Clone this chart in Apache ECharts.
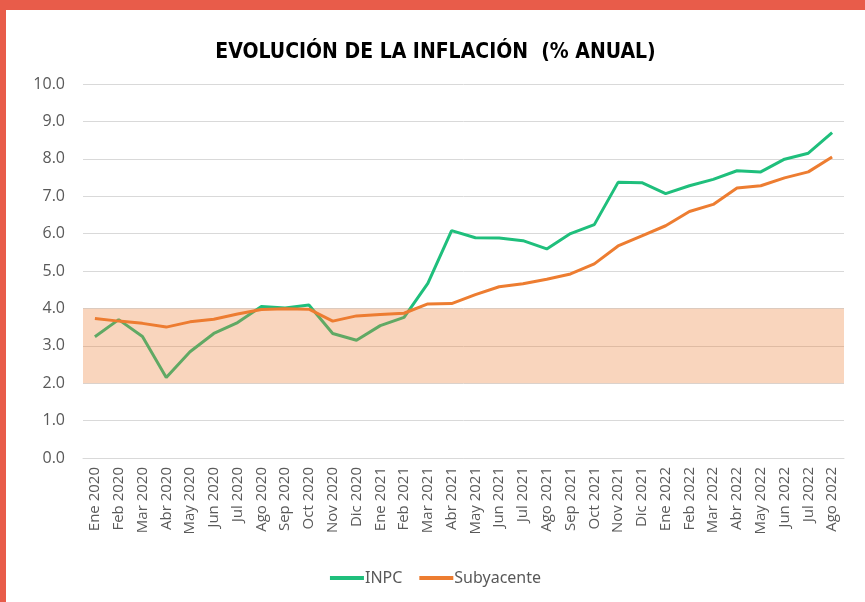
<!DOCTYPE html>
<html>
<head>
<meta charset="utf-8">
<script src="https://cdn.jsdelivr.net/npm/echarts@6/dist/echarts.min.js"></script>
<style>
  html, body { margin: 0; padding: 0; background: #fff; }
  #frame { position: absolute; left: 0; top: 0; width: 865px; height: 602px; background: #e85c4a; }
  #chartContainer { position: absolute; left: 6px; top: 10px; width: 859px; height: 592px; background: #fff; }
</style>
</head>
<body>
<div id="frame"></div>
<div id="chartContainer"></div>
<script>
const months = ['Ene 2020', 'Feb 2020', 'Mar 2020', 'Abr 2020', 'May 2020', 'Jun 2020', 'Jul 2020', 'Ago 2020',
  'Sep 2020', 'Oct 2020', 'Nov 2020', 'Dic 2020', 'Ene 2021', 'Feb 2021', 'Mar 2021', 'Abr 2021',
  'May 2021', 'Jun 2021', 'Jul 2021', 'Ago 2021', 'Sep 2021', 'Oct 2021', 'Nov 2021', 'Dic 2021',
  'Ene 2022', 'Feb 2022', 'Mar 2022', 'Abr 2022', 'May 2022', 'Jun 2022', 'Jul 2022', 'Ago 2022'];

const inpc = [3.24, 3.70, 3.25, 2.15, 2.84, 3.33, 3.62, 4.05, 4.01, 4.09, 3.33, 3.15,
  3.54, 3.76, 4.67, 6.08, 5.89, 5.88, 5.81, 5.59, 6.00, 6.24, 7.37, 7.36,
  7.07, 7.28, 7.45, 7.68, 7.65, 7.99, 8.15, 8.70];

const subyacente = [3.73, 3.66, 3.60, 3.50, 3.64, 3.71, 3.85, 3.97, 3.99, 3.98, 3.66, 3.80,
  3.84, 3.87, 4.12, 4.13, 4.37, 4.58, 4.66, 4.78, 4.92, 5.19, 5.67, 5.94,
  6.21, 6.59, 6.78, 7.22, 7.28, 7.49, 7.65, 8.05];

// rango objetivo de Banxico (3% +/- 1)
const targetBand = [2, 4];

const chart = echarts.init(document.getElementById('chartContainer'));

chart.setOption({
  animation: false,
  title: {
    text: 'EVOLUCIÓN DE LA INFLACIÓN  (% ANUAL)',
    left: 'center',
    top: 27,
    textStyle: {
      fontFamily: 'DejaVu Sans Condensed, Liberation Sans',
      fontWeight: 'bold',
      fontSize: 21,
      color: '#000'
    }
  },
  legend: {
    data: ['INPC', 'Subyacente'],
    bottom: 11,
    left: 'center',
    icon: 'rect',
    itemWidth: 34,
    itemHeight: 4,
    itemGap: 17,
    textStyle: { fontFamily: 'Noto Sans', fontSize: 16, color: '#595959', padding: [0, 0, 0, -4] }
  },
  grid: { left: 77, right: 21, top: 74, bottom: 144 },
  xAxis: {
    type: 'category',
    data: months,
    boundaryGap: true,
    axisLine: { lineStyle: { color: '#d9d9d9', width: 1 } },
    axisTick: { show: false },
    axisLabel: {
      rotate: 90,
      interval: 0,
      margin: 9,
      fontFamily: 'Open Sans',
      fontSize: 15,
      color: '#595959'
    }
  },
  yAxis: {
    type: 'value',
    min: 0,
    max: 10,
    interval: 1,
    axisLine: { show: false },
    axisTick: { show: false },
    splitLine: { lineStyle: { color: '#d9d9d9', width: 1 } },
    axisLabel: {
      margin: 18,
      fontFamily: 'Open Sans',
      fontSize: 16,
      color: '#595959',
      formatter: v => v.toFixed(1)
    }
  },
  series: [
    {
      name: 'INPC',
      type: 'line',
      data: inpc,
      symbol: 'none',
      z: 2,
      lineStyle: { color: '#1fbf7c', width: 3 },
      itemStyle: { color: '#1fbf7c' }
    },
    {
      name: 'Subyacente',
      type: 'line',
      data: subyacente,
      symbol: 'none',
      z: 3,
      lineStyle: { color: '#ed7d31', width: 3 },
      itemStyle: { color: '#ed7d31' }
    },
    {
      name: 'banda',
      type: 'line',
      data: [],
      z: 10,
      markArea: {
        silent: true,
        z: 10,
        itemStyle: { color: 'rgba(237,125,49,0.32)' },
        data: [[{ yAxis: targetBand[0] }, { yAxis: targetBand[1] }]]
      }
    }
  ]
});
</script>
</body>
</html>
